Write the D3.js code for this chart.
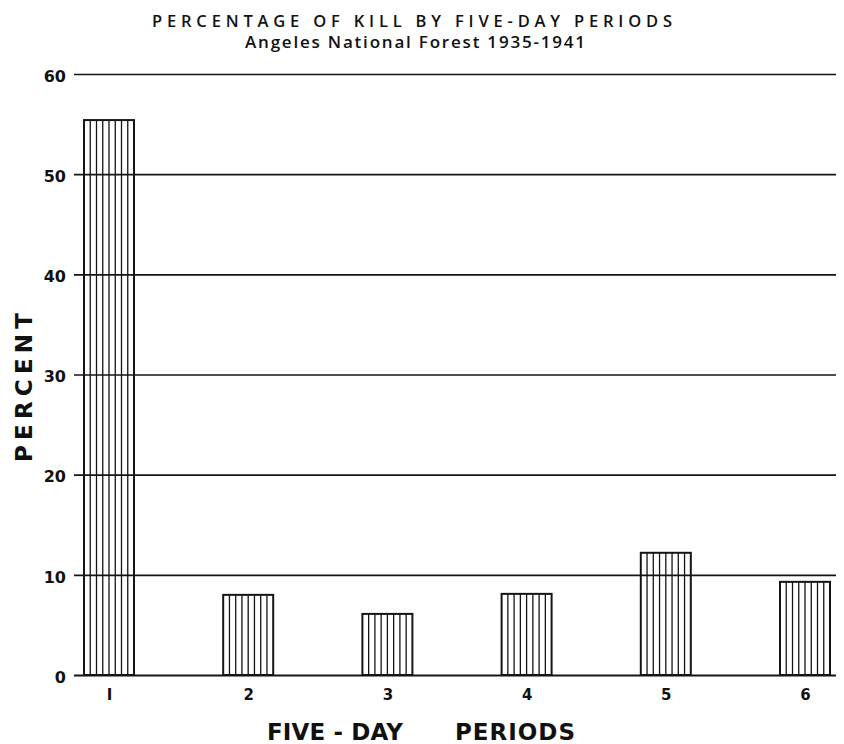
<!DOCTYPE html>
<html>
<head>
<meta charset="utf-8">
<script src="https://cdn.jsdelivr.net/npm/d3@7"></script>
<style>
  html, body { margin: 0; padding: 0; background: #fff; }
  svg { display: block; }
  text { fill: #111; }
</style>
</head>
<body>
<svg id="chart" width="844" height="744"></svg>
<script>
// Data
const periods = ["1", "2", "3", "4", "5", "6"];
const percentKill = [55.4, 8.0, 6.1, 8.1, 12.2, 9.3];
const yTicks = [0, 10, 20, 30, 40, 50, 60];
const titleText = "PERCENTAGE OF KILL BY FIVE-DAY PERIODS";
const subtitleText = "Angeles National Forest 1935-1941";
const xTitleParts = ["FIVE - DAY", "PERIODS"];
const yTitleText = "PERCENT";

const svg = d3.select("#chart");
const ink = "#151515";
const gridLeft = 74, gridRight = 836;

const y = d3.scaleLinear().domain([0, 60]).range([675, 74]);
const x = d3.scalePoint().domain(periods).range([109, 805]);
const barW = 50;

// Grid / y axis
const yAxis = d3.axisLeft(y)
  .tickValues(yTicks)
  .tickSize(-(gridRight - gridLeft))
  .tickPadding(8)
  .tickFormat(d3.format("d"));
const gy = svg.append("g")
  .attr("transform", `translate(${gridLeft},0)`)
  .call(yAxis);
gy.select(".domain").remove();
gy.selectAll(".tick line").attr("stroke", ink).attr("stroke-width", d => d === 0 ? 2 : 1.6);
gy.selectAll(".tick text")
  .attr("font-family", "DejaVu Sans, sans-serif")
  .attr("font-size", 16)
  .attr("font-weight", "bold")
  .attr("dy", "0.45em")
  .attr("fill", ink);

// Bars
const bars = svg.append("g").selectAll("g.bar")
  .data(periods.map((p, i) => ({ p, v: percentKill[i] })))
  .join("g").attr("class", "bar");

bars.each(function(d) {
  const g = d3.select(this);
  const x0 = x(d.p) - barW / 2;
  const yTop = y(d.v), yBot = y(0);
  const nGaps = 8;
  const hatch = d3.range(1, nGaps).map(k => x0 + k * barW / nGaps);
  g.selectAll("line.h").data(hatch).join("line")
    .attr("class", "h")
    .attr("x1", d => d).attr("x2", d => d)
    .attr("y1", yTop).attr("y2", yBot)
    .attr("stroke", ink).attr("stroke-width", 1.3);
  g.append("rect")
    .attr("x", x0).attr("y", yTop)
    .attr("width", barW).attr("height", yBot - yTop)
    .attr("fill", "none").attr("stroke", ink).attr("stroke-width", 2);
});

// X axis labels
const xAxis = d3.axisBottom(x).tickSize(0).tickPadding(14);
const gx = svg.append("g").attr("transform", `translate(0,${y(0)})`).call(xAxis);
gx.select(".domain").remove();
gx.selectAll(".tick text")
  .attr("font-family", "DejaVu Sans, sans-serif")
  .attr("font-size", 15)
  .attr("font-weight", "bold")
  .attr("fill", ink)
  .text(d => d === "1" ? "I" : d);

// Titles
svg.append("text")
  .attr("x", 152).attr("y", 27)
  .attr("font-family", "Open Sans, DejaVu Sans, sans-serif")
  .attr("font-size", 16.5)
  .attr("font-weight", 600)
  .attr("textLength", 520).attr("lengthAdjust", "spacing")
  .text(titleText);

svg.append("text")
  .attr("x", 245).attr("y", 48)
  .attr("font-family", "Open Sans, DejaVu Sans, sans-serif")
  .attr("font-size", 17)
  .attr("font-weight", 600)
  .attr("textLength", 340).attr("lengthAdjust", "spacing")
  .text(subtitleText);

// X title
svg.append("text")
  .attr("x", 267).attr("y", 740)
  .attr("font-family", "DejaVu Sans, sans-serif")
  .attr("font-size", 23)
  .attr("font-weight", "bold")
  .attr("textLength", 136).attr("lengthAdjust", "spacing")
  .text(xTitleParts[0]);
svg.append("text")
  .attr("x", 455).attr("y", 740)
  .attr("font-family", "DejaVu Sans, sans-serif")
  .attr("font-size", 23)
  .attr("font-weight", "bold")
  .attr("textLength", 120).attr("lengthAdjust", "spacing")
  .text(xTitleParts[1]);

// Y title
svg.append("text")
  .attr("transform", "translate(32,462) rotate(-90)")
  .attr("font-family", "DejaVu Sans, sans-serif")
  .attr("font-size", 23)
  .attr("font-weight", "bold")
  .attr("textLength", 149).attr("lengthAdjust", "spacing")
  .text(yTitleText);
</script>
</body>
</html>
